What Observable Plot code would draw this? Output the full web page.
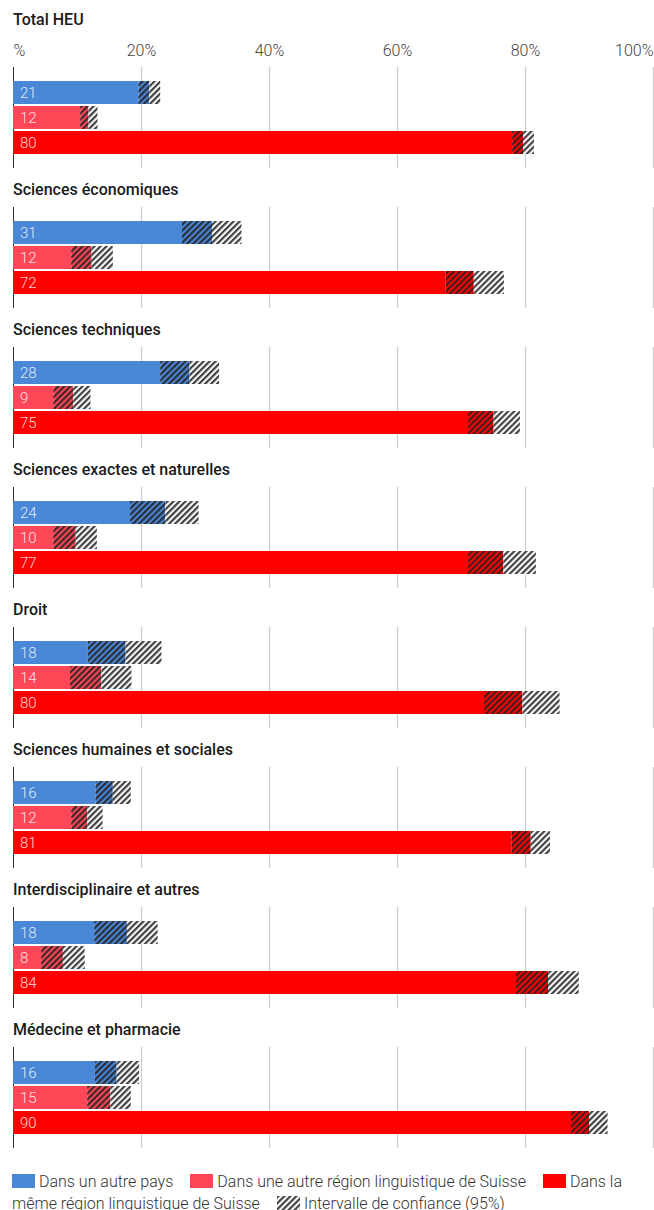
<!DOCTYPE html>
<html>
<head>
<meta charset="utf-8">
<script src="https://cdn.jsdelivr.net/npm/d3@7"></script>
<script src="https://cdn.jsdelivr.net/npm/@observablehq/plot@0.6"></script>
<style>
  html, body { margin: 0; padding: 0; background: #fff; }
  body { width: 654px; font-family: Roboto, "Noto Sans", sans-serif; }
  .title { height: 20px; line-height: 20px; font-size: 16px; font-weight: 500; color: #1a1a1a; padding-left: 13px; white-space: nowrap; }
  .title.first { margin-top: 10px; margin-bottom: 0; }
  .title.next { margin-top: 11.5px; margin-bottom: 7.5px; }
  svg.chart { display: block; }
  .legend { margin-top: 23px; padding-left: 12px; padding-right: 0; font-size: 16px; font-weight: 300; color: #333; line-height: 22px; }
  .sw { display: inline-block; width: 23px; height: 14px; margin-right: 4px; vertical-align: -1px; }
  .sw.gap { margin-left: 17px; }
  .sw svg { display: block; }
</style>
</head>
<body>
<svg width="0" height="0" style="position:absolute">
  <defs>
    <pattern id="hatch" patternUnits="userSpaceOnUse" width="4.25" height="4.25" patternTransform="rotate(45)">
      <rect x="0" y="0" width="2.2" height="4.25" fill="#222" fill-opacity="0.85"></rect>
    </pattern>
  </defs>
</svg>
<div id="charts"></div>
<script>
// ---- Data ----
const groups = [
  "Total HEU",
  "Sciences économiques",
  "Sciences techniques",
  "Sciences exactes et naturelles",
  "Droit",
  "Sciences humaines et sociales",
  "Interdisciplinaire et autres",
  "Médecine et pharmacie"
];
const series = [
  "Dans un autre pays",
  "Dans une autre région linguistique de Suisse",
  "Dans la même région linguistique de Suisse"
];
const seriesColors = ["#4a87d6", "#ff4758", "#ff0000"];

// Dans un autre pays
const valAutrePays = [21.3, 31.1, 27.6, 23.8, 17.6, 15.6, 17.8, 16.2];
const loAutrePays  = [19.6, 26.4, 23.0, 18.3, 11.7, 12.9, 12.7, 12.8];
const hiAutrePays  = [23.0, 35.7, 32.2, 29.0, 23.2, 18.4, 22.6, 19.7];
// Dans une autre région linguistique de Suisse
const valAutreRegion = [11.8, 12.3, 9.4, 9.8, 13.8, 11.6, 7.8, 15.2];
const loAutreRegion  = [10.5, 9.1, 6.3, 6.3, 8.9, 9.1, 4.4, 11.6];
const hiAutreRegion  = [13.2, 15.6, 12.1, 13.1, 18.5, 14.0, 11.2, 18.4];
// Dans la même région linguistique de Suisse
const valMemeRegion = [79.7, 72.0, 75.1, 76.6, 79.6, 80.9, 83.6, 90.0];
const loMemeRegion  = [78.0, 67.6, 71.1, 71.1, 73.6, 77.9, 78.6, 87.2];
const hiMemeRegion  = [81.4, 76.7, 79.2, 81.7, 85.4, 83.9, 88.4, 92.9];

const xTicks = [0, 20, 40, 60, 80, 100];
const tickLabels = ["%", "20%", "40%", "60%", "80%", "100%"];
const legendCI = "Intervalle de confiance (95%)";

// ---- Build ----
const vals = [valAutrePays, valAutreRegion, valMemeRegion];
const los = [loAutrePays, loAutreRegion, loMemeRegion];
const his = [hiAutrePays, hiAutreRegion, hiMemeRegion];

const container = document.getElementById("charts");

groups.forEach((g, i) => {
  const first = i === 0;
  const t = document.createElement("div");
  t.className = "title " + (first ? "first" : "next");
  t.textContent = g;
  container.appendChild(t);

  const rows = series.map((s, j) => ({
    s, c: seriesColors[j], lo: los[j][i], val: vals[j][i], hi: his[j][i]
  }));
  const mt = first ? 37 : 0;
  const tickRows = xTicks.map((v, k) => ({v, label: tickLabels[k]}));

  const marks = [
    Plot.ruleX(xTicks.slice(1), {x: d => d, stroke: "#cfcfcf", strokeWidth: 1.3}),
    Plot.ruleX([0], {x: d => d, stroke: "#333", strokeWidth: 1}),
    Plot.barX(rows, {x1: () => 0, x2: "lo", y: "s", fill: "c"}),
    Plot.barX(rows, {x1: "lo", x2: "val", y: "s", fill: "c"}),
    Plot.barX(rows, {x1: "lo", x2: "val", y: "s", fill: "url(#hatch)"}),
    Plot.barX(rows, {x1: "val", x2: "hi", y: "s", fill: "white"}),
    Plot.barX(rows, {x1: "val", x2: "hi", y: "s", fill: "url(#hatch)"}),
    Plot.text(rows, {x: () => 0, y: "s", text: d => String(Math.round(d.val)), textAnchor: "start", dx: 6.5,
      fill: "white", fillOpacity: 0.85, fontSize: 15, fontWeight: 300, lineAnchor: "middle"})
  ];
  if (first) {
    const common = {x: "v", text: "label", frameAnchor: "top", dy: -17, lineAnchor: "middle",
      fill: "#444", fontSize: 16, fontWeight: 300};
    marks.push(Plot.text(tickRows.slice(0, 1), {...common, textAnchor: "start"}));
    marks.push(Plot.text(tickRows.slice(1, -1), {...common, textAnchor: "middle"}));
    marks.push(Plot.text(tickRows.slice(-1), {...common, textAnchor: "end"}));
  }

  const svg = Plot.plot({
    width: 654,
    height: mt + 101,
    marginLeft: 13,
    marginRight: 1,
    marginTop: mt,
    marginBottom: 0,
    x: {domain: [0, 100], axis: null},
    y: {domain: series, range: [mt + 13, mt + 88], paddingInner: 0.1, paddingOuter: 0, axis: null},
    color: {type: "identity"},
    style: {fontFamily: "Roboto, 'Noto Sans', sans-serif", background: "white", overflow: "visible"},
    marks
  });
  svg.classList.add("chart");
  container.appendChild(svg);
});

// ---- Legend ----
const legend = document.createElement("div");
legend.className = "legend";
let html = "";
series.forEach((s, j) => {
  html += `<span class="sw${j ? " gap" : ""}" style="background:${seriesColors[j]}"></span>${s}`;
});
html += `<span class="sw gap"><svg width="23" height="14"><rect width="23" height="14" fill="url(#hatch)"></rect></svg></span>${legendCI}`;
legend.innerHTML = html;
document.body.appendChild(legend);
</script>
</body>
</html>
